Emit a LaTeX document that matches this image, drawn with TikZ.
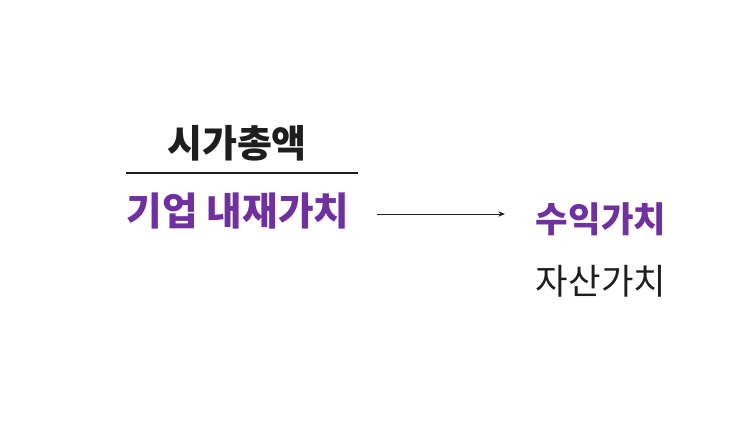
\documentclass[tikz,border=0pt]{standalone}
\usepackage{fontspec}
\usepackage{tikz}
\usepackage{xcolor}
\usetikzlibrary{arrows.meta,positioning,calc}
\newfontfamily\krfont{Noto Sans CJK KR}
\definecolor{valuePurple}{RGB}{112,48,160}
\definecolor{darkText}{RGB}{30,30,30}

\begin{document}
\begin{tikzpicture}[x=0.75pt,y=-0.75pt]
            \useasboundingbox (0,0) rectangle (743,444);
            \node[font=\krfont\bfseries\fontsize{28.5pt}{32pt}\selectfont, text=darkText] (mktcap) at (237,143) {시가총액};
            \node[font=\krfont\bfseries\fontsize{29pt}{32pt}\selectfont, text=valuePurple] (intrinsic) at (238,211) {기업 내재가치};
            \node[font=\krfont\bfseries\fontsize{26.5pt}{30pt}\selectfont, text=valuePurple] (earnval) at (601,219) {수익가치};
            \node[font=\krfont\fontsize{26.5pt}{30pt}\selectfont, text=darkText] (assetval) at (601,281) {자산가치};
            \coordinate (barL) at (126,173);
            \coordinate (barR) at (358,173);
            \coordinate (arrS) at (377,214);
            \coordinate (arrE) at (505,214);
            \draw[line width=1.5pt, darkText] (barL) -- (barR);
            \draw[-{Stealth[length=5pt,width=4pt]}, line width=0.6pt, darkText] (arrS) -- (arrE);
        \end{tikzpicture}
\end{document}
